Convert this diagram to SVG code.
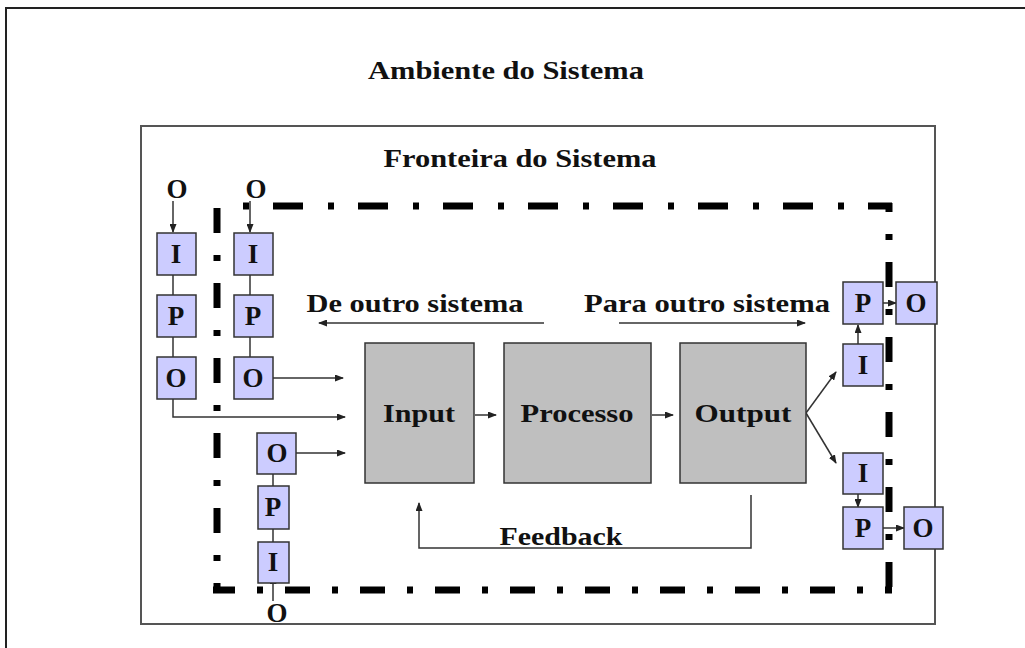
<svg xmlns="http://www.w3.org/2000/svg" width="1025" height="648" viewBox="0 0 1025 648">
<defs>
<marker id="ah" markerUnits="userSpaceOnUse" markerWidth="9" markerHeight="7" refX="8" refY="3.5" orient="auto">
<path d="M0,0 L9,3.5 L0,7 z" fill="#222"/>
</marker>
<style>
text{font-family:"Liberation Serif","Times New Roman",serif;font-weight:bold;fill:#111;text-anchor:middle}
.big{font-size:26px}
.lt{font-size:27px}
.ipo{fill:#ccccff;stroke:#333;stroke-width:1.5}
.blk{fill:#bfbfbf;stroke:#333;stroke-width:1.5}
.con line,.con path{stroke:#333;stroke-width:1.5;fill:none}
.arr{marker-end:url(#ah)}
.bd{stroke:#000;stroke-width:7;fill:none;stroke-dasharray:25 22 6 22}
</style>
</defs>
<rect width="1025" height="648" fill="#fff"/>
<rect x="6" y="8" width="1100" height="700" fill="none" stroke="#222" stroke-width="2"/>
<rect x="141" y="126" width="794" height="498" fill="none" stroke="#555" stroke-width="2"/>
<text class="big" x="506" y="79" textLength="276" lengthAdjust="spacingAndGlyphs">Ambiente do Sistema</text>
<text class="big" x="520" y="167" textLength="273" lengthAdjust="spacingAndGlyphs">Fronteira do Sistema</text>

<g id="boundary">
<line class="bd" x1="243" y1="206" x2="892" y2="206" style="stroke-dasharray:6 24 30 25"/>
<line class="bd" x1="889" y1="203" x2="889" y2="590" stroke-dashoffset="16"/>
<line class="bd" x1="217" y1="208" x2="217" y2="590"/>
<line class="bd" x1="213" y1="590" x2="892" y2="590" stroke-dashoffset="3"/>
</g>

<g id="connectors" class="con">
<line x1="173" y1="275" x2="173" y2="295"/>
<line x1="173" y1="337" x2="173" y2="357"/>
<line x1="250" y1="275" x2="250" y2="295"/>
<line x1="250" y1="337" x2="250" y2="357"/>
<line class="arr" x1="173" y1="201" x2="173" y2="232"/>
<line class="arr" x1="250" y1="201" x2="250" y2="232"/>
<line class="arr" x1="273" y1="378" x2="343" y2="378"/>
<path class="arr" d="M173,399 V417 H345"/>
<line x1="273" y1="474" x2="273" y2="486"/>
<line x1="273" y1="529" x2="273" y2="542"/>
<line class="arr" x1="273" y1="601" x2="273" y2="576"/>
<line class="arr" x1="296" y1="453" x2="345" y2="453"/>
<line class="arr" x1="475" y1="415" x2="496" y2="415"/>
<line class="arr" x1="652" y1="415" x2="673" y2="415"/>
<path class="arr" d="M751,495 V548 H419 V503"/>
<line class="arr" x1="544" y1="323" x2="319" y2="323"/>
<line class="arr" x1="619" y1="323" x2="805" y2="323"/>
<line class="arr" x1="806" y1="413" x2="836" y2="372"/>
<line class="arr" x1="806" y1="413" x2="836" y2="463"/>
<line class="arr" x1="858" y1="344" x2="858" y2="325"/>
<line class="arr" x1="883" y1="303" x2="896" y2="303"/>
<line class="arr" x1="858" y1="494" x2="858" y2="507"/>
<line class="arr" x1="883" y1="528" x2="904" y2="528"/>
</g>

<g id="labels">
<text class="big" x="415" y="312" textLength="217" lengthAdjust="spacingAndGlyphs">De outro sistema</text>
<text class="big" x="707" y="312" textLength="246" lengthAdjust="spacingAndGlyphs">Para outro sistema</text>
<text class="big" x="561" y="545" textLength="123" lengthAdjust="spacingAndGlyphs">Feedback</text>
<text class="lt" x="177" y="198">O</text>
<text class="lt" x="256" y="198">O</text>
<text class="lt" x="277" y="622">O</text>
</g>

<g id="stack1">
<rect class="ipo" x="157" y="233" width="39" height="42"/><text class="lt" x="176" y="263">I</text>
<rect class="ipo" x="157" y="295" width="39" height="42"/><text class="lt" x="176" y="325">P</text>
<rect class="ipo" x="157" y="357" width="39" height="42"/><text class="lt" x="176" y="387">O</text>
</g>
<g id="stack2">
<rect class="ipo" x="234" y="233" width="39" height="42"/><text class="lt" x="253" y="263">I</text>
<rect class="ipo" x="234" y="295" width="39" height="42"/><text class="lt" x="253" y="325">P</text>
<rect class="ipo" x="234" y="357" width="39" height="42"/><text class="lt" x="253" y="387">O</text>
</g>
<g id="stack3">
<rect class="ipo" x="257" y="433" width="39" height="41"/><text class="lt" x="277" y="462">O</text>
<rect class="ipo" x="258" y="486" width="31" height="43"/><text class="lt" x="273" y="516">P</text>
<rect class="ipo" x="258" y="542" width="31" height="41"/><text class="lt" x="273" y="571">I</text>
</g>

<g id="input"><rect class="blk" x="365" y="343" width="109" height="140"/><text class="big" x="419" y="422" textLength="72" lengthAdjust="spacingAndGlyphs">Input</text></g>
<g id="processo"><rect class="blk" x="504" y="343" width="147" height="140"/><text class="big" x="577" y="422" textLength="113" lengthAdjust="spacingAndGlyphs">Processo</text></g>
<g id="output"><rect class="blk" x="680" y="343" width="126" height="140"/><text class="big" x="743" y="422" textLength="97" lengthAdjust="spacingAndGlyphs">Output</text></g>

<g id="stack4">
<rect class="ipo" x="843" y="282" width="40" height="42"/><text class="lt" x="863" y="312">P</text>
<rect class="ipo" x="896" y="282" width="41" height="42"/><text class="lt" x="916" y="312">O</text>
<rect class="ipo" x="843" y="344" width="40" height="42"/><text class="lt" x="863" y="374">I</text>
</g>
<g id="stack5">
<rect class="ipo" x="843" y="453" width="40" height="41"/><text class="lt" x="863" y="482">I</text>
<rect class="ipo" x="843" y="507" width="40" height="42"/><text class="lt" x="863" y="537">P</text>
<rect class="ipo" x="904" y="507" width="39" height="42"/><text class="lt" x="923" y="537">O</text>
</g>
</svg>
